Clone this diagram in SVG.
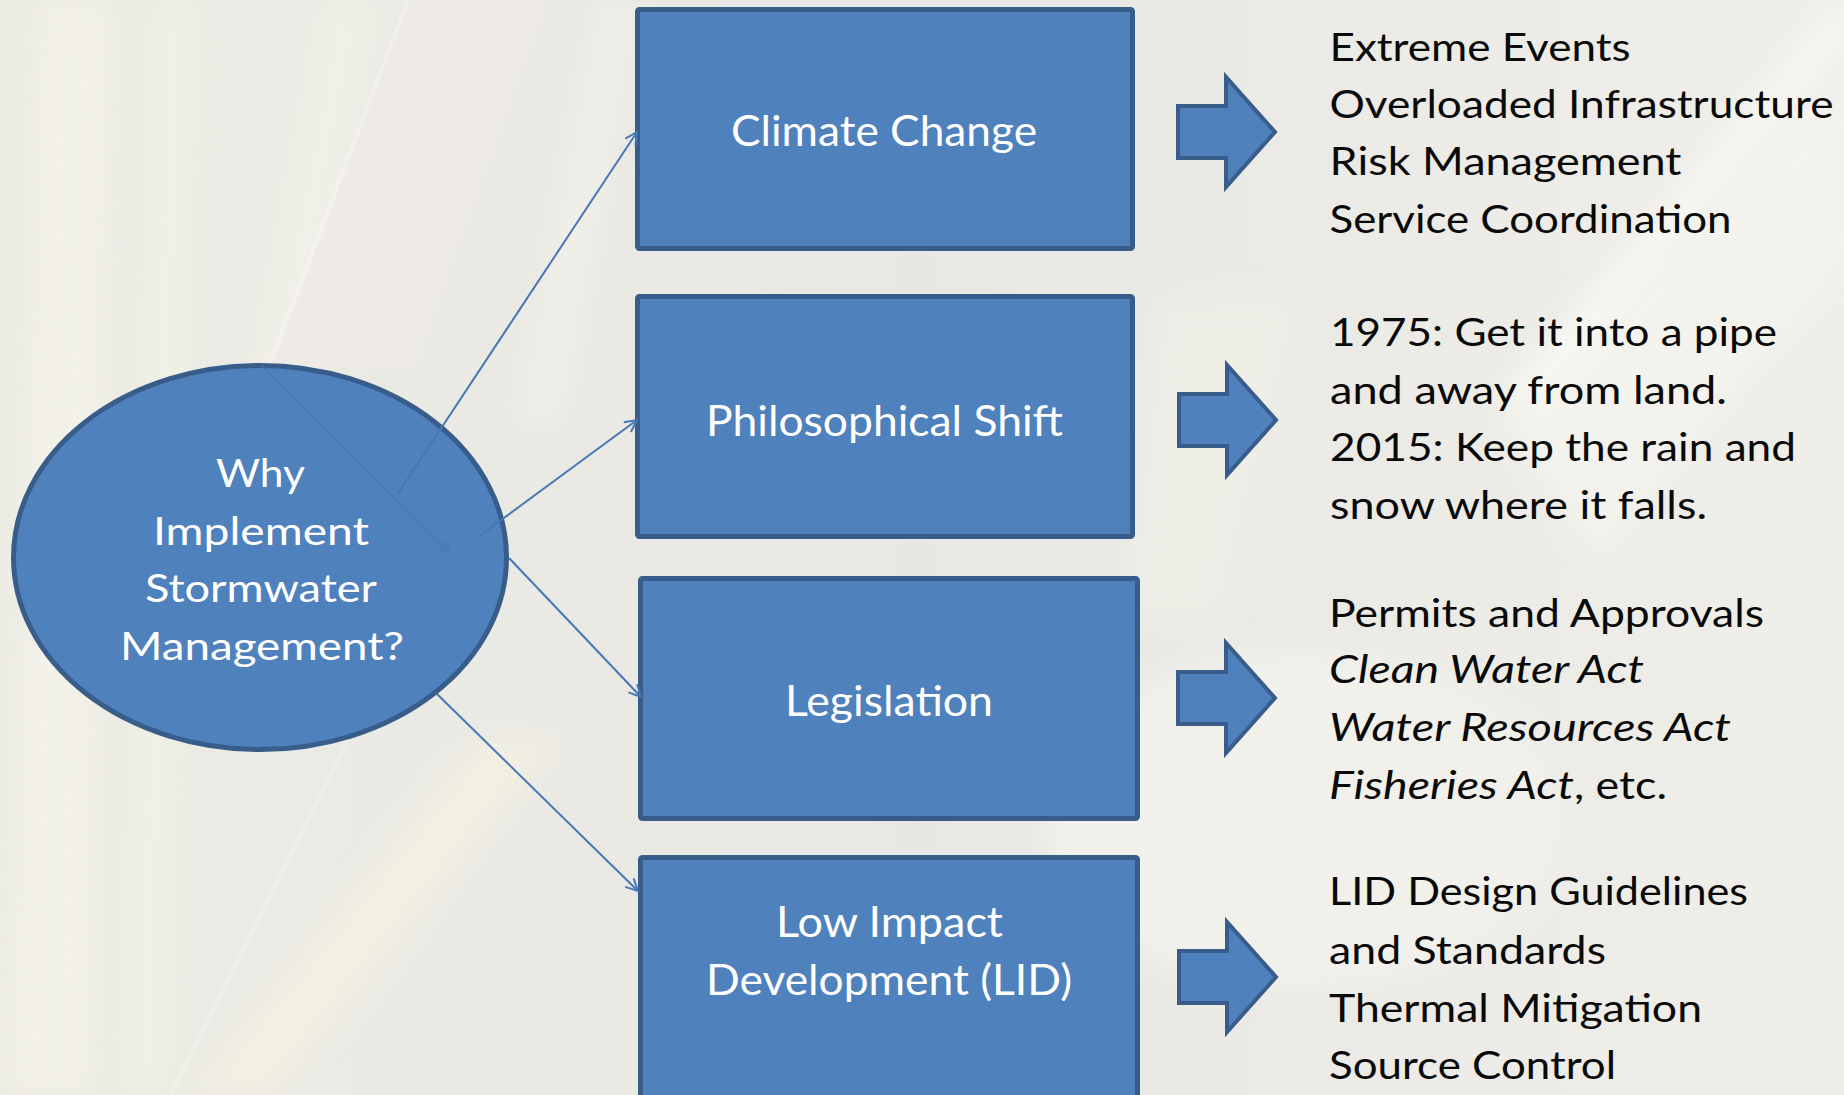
<svg xmlns="http://www.w3.org/2000/svg" width="1844" height="1095" viewBox="0 0 1844 1095">
  <style>
    .node { fill: #4F81BD; stroke: #385D8A; stroke-width: 5; }
    .blk { fill: #4F81BD; stroke: #385D8A; stroke-width: 4; stroke-linejoin: miter; }
    .lbl { font-family: Lato, "Open Sans", "DejaVu Sans", sans-serif; fill: #FFFFFF; font-size: 42px; }
    .elbl { font-family: Lato, "Open Sans", "DejaVu Sans", sans-serif; fill: #FFFFFF; font-size: 38px; }
    .side { font-family: Lato, "Open Sans", "DejaVu Sans", sans-serif; fill: #0A0A0A; font-size: 38px; }
    .it { font-style: italic; }
    .conn { stroke: #4677B6; stroke-width: 2; fill: none; marker-end: url(#vee); }
  </style>
  <defs>
    <marker id="vee" viewBox="0 0 14 14" refX="13" refY="7" markerWidth="14" markerHeight="14" markerUnits="userSpaceOnUse" orient="auto">
      <path d="M1,1 L13,7 L1,13" fill="none" stroke="#4677B6" stroke-width="2"/>
    </marker>
    <path id="blkArrow" d="M0,-26 L48,-26 L48,-55 L97,0 L48,55 L48,26 L0,26 Z"/>
    <filter id="soft" x="-20%" y="-20%" width="140%" height="140%">
      <feGaussianBlur stdDeviation="14"/>
    </filter>
    <filter id="soft2" x="-20%" y="-20%" width="140%" height="140%">
      <feGaussianBlur stdDeviation="3"/>
    </filter>
    <filter id="soft1" x="-20%" y="-20%" width="140%" height="140%">
      <feGaussianBlur stdDeviation="1"/>
    </filter>
    <linearGradient id="bgGrad" x1="0" y1="0" x2="1" y2="0">
      <stop offset="0" stop-color="#ECEBE4"/>
      <stop offset="0.5" stop-color="#E8E7E3"/>
      <stop offset="1" stop-color="#EFEEE9"/>
    </linearGradient>
  </defs>

  <!-- background (blurred grass photo approximation) -->
  <g id="background">
    <rect x="0" y="0" width="1844" height="1095" fill="url(#bgGrad)"/>
    <g filter="url(#soft)" opacity="0.8">
      <polygon points="40,0 110,0 90,1095 10,1095" fill="#F4F3EA"/>
      <polygon points="150,0 200,0 170,1095 120,1095" fill="#F1F1E6"/>
      <polygon points="320,0 380,0 250,700 190,700" fill="#F2F1E8"/>
      <polygon points="480,740 560,740 270,1095 190,1095" fill="#F4F2E2"/>
      <polygon points="600,0 640,0 560,420 520,420" fill="#F2F1EA"/>
      <polygon points="1500,420 1844,80 1844,260 1600,560" fill="#F5F4EE"/>
      <ellipse cx="1300" cy="820" rx="260" ry="170" fill="#F3F2EC"/>
      <polygon points="1160,300 1300,300 1220,620 1120,620" fill="#EFEFE7"/>
    </g>
    <polygon points="408,0 547,0 412,367 269,367" fill="#EEEBE6" filter="url(#soft2)"/>
    <polygon points="1844,0 1844,40 1540,400 1500,400" fill="#FAFAF6" filter="url(#soft)" opacity="0.9"/>
    <line x1="408" y1="0" x2="269" y2="367" stroke="#FFFFFF" stroke-width="2" opacity="0.55" filter="url(#soft1)"/>
    <line x1="347" y1="740" x2="171" y2="1095" stroke="#FBFBF5" stroke-width="2" opacity="0.5" filter="url(#soft1)"/>
  </g>

  <!-- central ellipse node -->
  <g id="node-why">
    <ellipse class="node" cx="260" cy="557.5" rx="246.5" ry="192"/>
    <text class="elbl" x="216" y="487" textLength="89" lengthAdjust="spacingAndGlyphs">Why</text>
    <text class="elbl" x="153" y="545" textLength="216" lengthAdjust="spacingAndGlyphs">Implement</text>
    <text class="elbl" x="145" y="602" textLength="232" lengthAdjust="spacingAndGlyphs">Stormwater</text>
    <text class="elbl" x="120" y="660" textLength="284" lengthAdjust="spacingAndGlyphs">Management?</text>
  </g>

  <!-- box nodes -->
  <g id="node-climate">
    <rect class="node" x="637.5" y="9.5" width="495" height="239" rx="2"/>
    <text class="lbl" x="731" y="146" textLength="306" lengthAdjust="spacingAndGlyphs">Climate Change</text>
  </g>
  <g id="node-philosophical">
    <rect class="node" x="637.5" y="296.5" width="495" height="240" rx="2"/>
    <text class="lbl" x="706" y="436" textLength="357" lengthAdjust="spacingAndGlyphs">Philosophical Shift</text>
  </g>
  <g id="node-legislation">
    <rect class="node" x="640.5" y="578.5" width="497" height="240" rx="2"/>
    <text class="lbl" x="785" y="716" textLength="208" lengthAdjust="spacingAndGlyphs">Legislation</text>
  </g>
  <g id="node-lid">
    <rect class="node" x="640.5" y="857.5" width="497" height="260" rx="2"/>
    <text class="lbl" x="776" y="937" textLength="227" lengthAdjust="spacingAndGlyphs">Low Impact</text>
    <text class="lbl" x="706" y="995" textLength="366" lengthAdjust="spacingAndGlyphs">Development (LID)</text>
  </g>

  <!-- connectors -->
  <g id="connectors">
    <line class="conn" x1="261" y1="365" x2="450" y2="553" opacity="0.6"/>
    <line class="conn" x1="397" y1="495" x2="637" y2="132"/>
    <line class="conn" x1="478" y1="537" x2="637" y2="420"/>
    <line class="conn" x1="509" y1="558" x2="641" y2="697"/>
    <line class="conn" x1="437" y1="694" x2="638" y2="891"/>
  </g>

  <!-- block arrows -->
  <g id="block-arrows">
    <use href="#blkArrow" class="blk" x="1178" y="132"/>
    <use href="#blkArrow" class="blk" x="1179" y="420"/>
    <use href="#blkArrow" class="blk" x="1178" y="698"/>
    <use href="#blkArrow" class="blk" x="1179" y="977"/>
  </g>

  <!-- outcome texts -->
  <g id="text-climate">
    <text class="side" x="1329.5" y="61" textLength="301" lengthAdjust="spacingAndGlyphs">Extreme Events</text>
    <text class="side" x="1329.5" y="118" textLength="504" lengthAdjust="spacingAndGlyphs">Overloaded Infrastructure</text>
    <text class="side" x="1329.5" y="175" textLength="352" lengthAdjust="spacingAndGlyphs">Risk Management</text>
    <text class="side" x="1329.5" y="233" textLength="402" lengthAdjust="spacingAndGlyphs">Service Coordination</text>
  </g>
  <g id="text-philosophical">
    <text class="side" x="1330" y="346" textLength="447" lengthAdjust="spacingAndGlyphs">1975: Get it into a pipe</text>
    <text class="side" x="1330" y="404" textLength="397" lengthAdjust="spacingAndGlyphs">and away from land.</text>
    <text class="side" x="1330" y="461" textLength="466" lengthAdjust="spacingAndGlyphs">2015: Keep the rain and</text>
    <text class="side" x="1330" y="519" textLength="377" lengthAdjust="spacingAndGlyphs">snow where it falls.</text>
  </g>
  <g id="text-legislation">
    <text class="side" x="1329" y="626.5" textLength="435" lengthAdjust="spacingAndGlyphs">Permits and Approvals</text>
    <text class="side it" x="1329" y="683" textLength="315" lengthAdjust="spacingAndGlyphs">Clean Water Act</text>
    <text class="side it" x="1329" y="741" textLength="402" lengthAdjust="spacingAndGlyphs">Water Resources Act</text>
    <text class="side" x="1329" y="798.5"><tspan class="it" textLength="245" lengthAdjust="spacingAndGlyphs">Fisheries Act</tspan><tspan textLength="93" lengthAdjust="spacingAndGlyphs">, etc.</tspan></text>
  </g>
  <g id="text-lid">
    <text class="side" x="1329" y="905" textLength="419" lengthAdjust="spacingAndGlyphs">LID Design Guidelines</text>
    <text class="side" x="1329" y="963.6" textLength="277" lengthAdjust="spacingAndGlyphs">and Standards</text>
    <text class="side" x="1329" y="1021.7" textLength="373" lengthAdjust="spacingAndGlyphs">Thermal Mitigation</text>
    <text class="side" x="1329" y="1079" textLength="287" lengthAdjust="spacingAndGlyphs">Source Control</text>
  </g>
</svg>
